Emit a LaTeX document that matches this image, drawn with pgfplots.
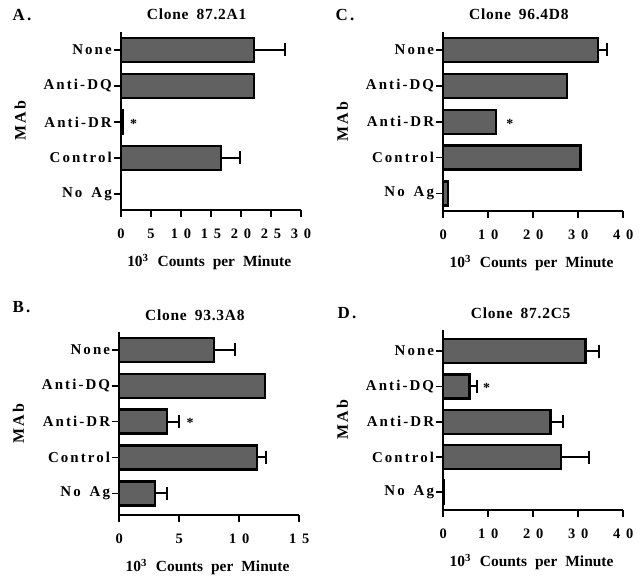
\documentclass[border=0pt]{standalone}
\usepackage{pgfplots}
\pgfplotsset{compat=1.18}
\usepackage{fontspec}
\setmainfont{Liberation Serif}
\newfontfamily\lblfont{Liberation Serif}[LetterSpace=14]
\newfontfamily\numfont{Liberation Serif}[LetterSpace=40]
\newfontfamily\ttlfont{Liberation Serif}[LetterSpace=5]
\newcommand{\xl}{$\mathbf{10^{3}}$\hspace{9bp}Counts\hspace{8bp}per\hspace{8bp}Minute}
\pgfplotsset{
  panel/.style={
    xbar, scale only axis, width=180bp, anchor=south west,
    axis x line*=bottom, axis y line*=left,
    axis line style={line width=1.8bp,-},
    xmin=0,
    ytick={0,1,2,3,4},
    yticklabels={No\hspace{9bp}Ag,Control,Anti-DR,Anti-DQ,None},
    tick align=outside, major tick length=7bp,
    tick style={line width=1.8bp,black},
    yticklabel style={font=\fontsize{15}{15}\lblfont\bfseries, inner sep=2bp},
    xticklabel style={font=\fontsize{14.5}{15}\numfont\bfseries, inner sep=2bp, yshift=-10bp},
    bar width=24bp, bar shift=0pt,
    title style={font=\fontsize{15.5}{16}\ttlfont\bfseries},
    xlabel style={font=\fontsize{15.5}{16}\selectfont\bfseries},
    ylabel style={font=\fontsize{16}{16}\lblfont\bfseries},
    clip=false,
  },
  barst/.style={fill=black!62, draw=black, line width=2.2bp},
  errst/.style={draw=none, fill=none, forget plot,
    error bars/.cd, x dir=plus, x explicit, error mark=|,
    error bar style={line width=2bp, black},
    error mark options={line width=2bp, mark size=6.5bp, black}},
}
\begin{document}
\begin{tikzpicture}
\useasboundingbox (0,0) rectangle (643bp,577bp);
% Panel A
\begin{axis}[panel, at={(121bp,367bp)}, height=178bp,
  xmax=30, xtick={0,5,...,30}, xticklabels={0,5,10,15,20,25,30},
  ymin=-0.45, ymax=4.5,
  title={Clone\hspace{8bp}87.2A1}, title style={at={(axis description cs:0.42,1)}, anchor=center, yshift=12bp},
  xlabel={\xl}, xlabel style={at={(axis description cs:0.49,0)}, anchor=center, yshift=-52bp},
  ylabel={MAb}, ylabel style={at={(axis description cs:-0.56,0.5)}, anchor=center}]
\addplot[barst] coordinates {(0,0) (16.7,1) (0.3,2) (22.1,3) (22.2,4)};
\addplot[errst] coordinates {(16.7,1) +- (3.1,0) (22.2,4) +- (5.2,0)};
\node[font=\fontsize{14}{14}\selectfont\bfseries] at (axis cs:2.1,1.95) {*};
\end{axis}
\node[font=\fontsize{17}{17}\lblfont\bfseries, anchor=west] at (9bp,562bp) {A.};
% Panel C
\begin{axis}[panel, at={(443.3bp,366.3bp)}, height=178.7bp,
  xmax=40, xtick={0,10,...,40}, xticklabels={0,10,20,30,40},
  ymin=-0.48, ymax=4.5,
  title={Clone\hspace{8bp}96.4D8}, title style={at={(axis description cs:0.42,1)}, anchor=center, yshift=12bp},
  xlabel={\xl}, xlabel style={at={(axis description cs:0.49,0)}, anchor=center, yshift=-52bp},
  ylabel={MAb}, ylabel style={at={(axis description cs:-0.56,0.5)}, anchor=center}]
\addplot[barst] coordinates {(1.0,0) (30.5,1) (11.7,2) (27.4,3) (34.4,4)};
\addplot[errst] coordinates {(34.4,4) +- (1.9,0)};
\node[font=\fontsize{14}{14}\selectfont\bfseries] at (axis cs:14.8,1.95) {*};
\end{axis}
\node[font=\fontsize{17}{17}\lblfont\bfseries, anchor=west] at (332bp,562bp) {C.};
% Panel B
\begin{axis}[panel, at={(119.3bp,62bp)}, height=183.3bp,
  xmax=15, xtick={0,5,10,15}, xticklabels={0,5,10,15},
  ymin=-0.6, ymax=4.5,
  title={Clone\hspace{8bp}93.3A8}, title style={at={(axis description cs:0.42,1)}, anchor=center, yshift=10bp},
  xlabel={\xl}, xlabel style={at={(axis description cs:0.49,0)}, anchor=center, yshift=-52bp},
  ylabel={MAb}, ylabel style={at={(axis description cs:-0.56,0.5)}, anchor=center}]
\addplot[barst] coordinates {(3.0,0) (11.5,1) (4.0,2) (12.15,3) (7.9,4)};
\addplot[errst] coordinates {(3.0,0) +- (1.0,0) (11.5,1) +- (0.7,0) (4.0,2) +- (1.0,0) (7.9,4) +- (1.7,0)};
\node[font=\fontsize{14}{14}\selectfont\bfseries] at (axis cs:5.9,1.95) {*};
\end{axis}
\node[font=\fontsize{17}{17}\lblfont\bfseries, anchor=west] at (9bp,270bp) {B.};
% Panel D
\begin{axis}[panel, at={(443.3bp,67bp)}, height=180bp,
  xmax=40, xtick={0,10,...,40}, xticklabels={0,10,20,30,40},
  ymin=-0.5, ymax=4.6,
  title={Clone\hspace{8bp}87.2C5}, title style={at={(axis description cs:0.43,1)}, anchor=center, yshift=11bp},
  xlabel={\xl}, xlabel style={at={(axis description cs:0.49,0)}, anchor=center, yshift=-52bp},
  ylabel={MAb}, ylabel style={at={(axis description cs:-0.56,0.5)}, anchor=center}]
\addplot[barst] coordinates {(0.2,0) (26.1,1) (23.8,2) (5.8,3) (31.6,4)};
\addplot[errst] coordinates {(26.1,1) +- (6.3,0) (23.8,2) +- (2.8,0) (5.8,3) +- (1.6,0) (31.6,4) +- (3.1,0)};
\node[font=\fontsize{14}{14}\selectfont\bfseries] at (axis cs:9.6,2.95) {*};
\end{axis}
\node[font=\fontsize{17}{17}\lblfont\bfseries, anchor=west] at (334bp,264bp) {D.};
\end{tikzpicture}
\end{document}
